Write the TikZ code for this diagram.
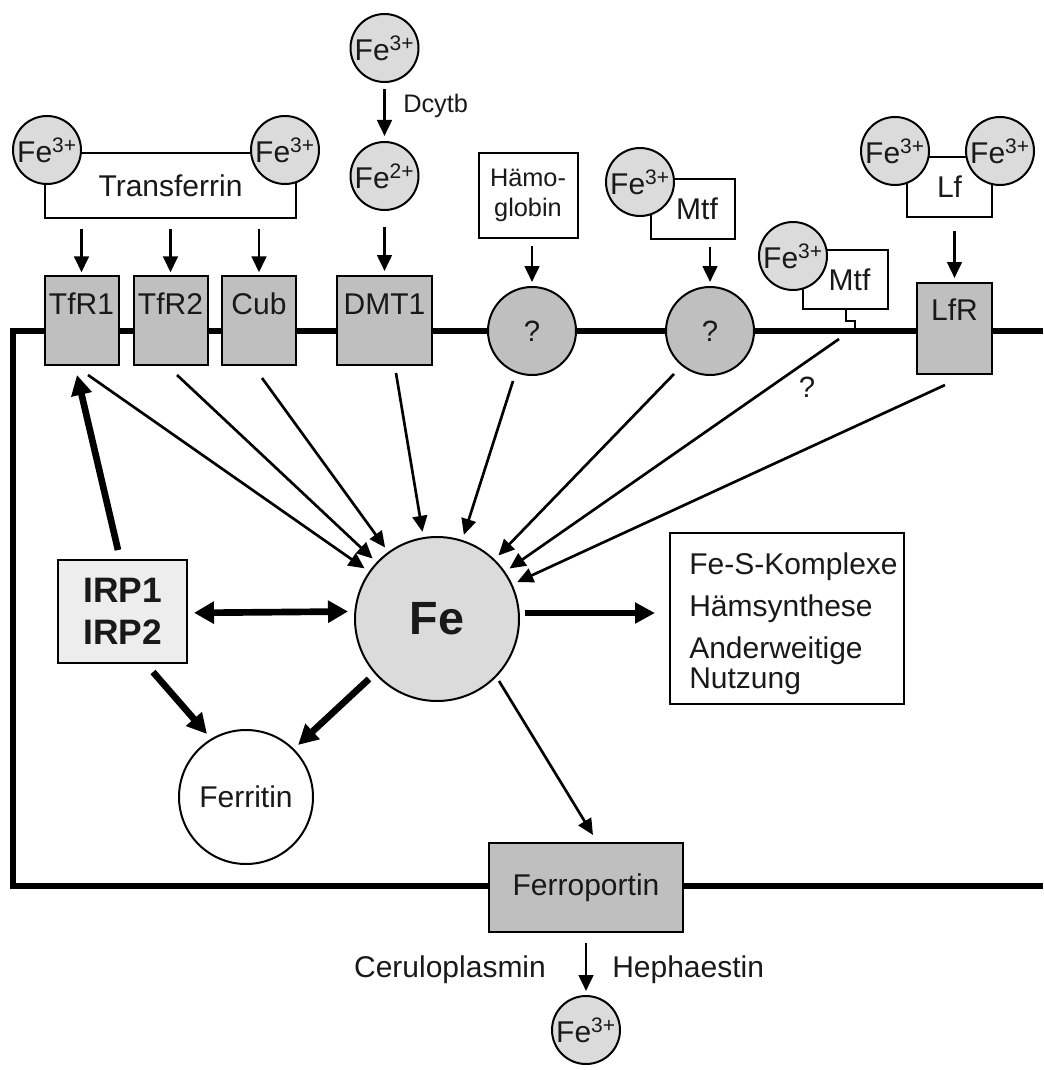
\documentclass[tikz,border=0pt]{standalone}
\usepackage{fontspec}
\setmainfont{Liberation Sans}
\usetikzlibrary{arrows.meta}
\definecolor{ionc}{gray}{0.86}
\definecolor{protc}{gray}{0.75}
\definecolor{irpc}{gray}{0.93}
\definecolor{txt}{gray}{0.1}
\newcommand\fmain{\fontsize{22.5pt}{22.5pt}\selectfont}
\newcommand\fsmall{\fontsize{19pt}{23pt}\selectfont}
\newcommand\fq{\fontsize{22pt}{24pt}\selectfont}
\newcommand\firp{\fontsize{26.5pt}{32pt}\selectfont\bfseries}
\newcommand\fbig{\fontsize{35pt}{40pt}\selectfont\bfseries}
\begin{document}
\begin{tikzpicture}[x=0.75pt,y=-0.75pt,
  every node/.style={text=txt},
  ion/.style={circle,draw,line width=1.5pt,fill=ionc,minimum size=51pt,inner sep=0pt,font=\fmain},
  prot/.style={rectangle,draw,line width=1.5pt,fill=protc,inner sep=0pt,font=\fmain},
  raised/.style={text height=16.5pt,text depth=26pt},
  qcirc/.style={circle,draw,line width=1.5pt,fill=protc,minimum size=66pt,inner sep=0pt,font=\fq},
  wbox/.style={rectangle,draw,line width=1.5pt,fill=white,inner sep=0pt},
  memb/.style={line width=4.5pt,line join=miter},
  tarr/.style={line width=2pt,-{Triangle[length=12pt,width=11pt]}},
  karr/.style={line width=5pt,-{Triangle[length=15pt,width=15pt]}},
  darr/.style={line width=5pt,{Triangle[length=15pt,width=16pt]}-{Triangle[length=15pt,width=16pt]}}
]
\useasboundingbox (0,0) rectangle (1043,1070);

% membrane
\draw[memb] (1043,331) -- (13,331) -- (13,886) -- (1043,886);

% transferrin
\node[wbox,minimum width=188.25pt,minimum height=48.75pt,font=\fmain] (tf) at (170.5,185.5) {Transferrin};
\node[ion] (tfa) at (47,150) {Fe\textsuperscript{3+}};
\node[ion] (tfb) at (285,150) {Fe\textsuperscript{3+}};

% receptors
\node[prot,raised,minimum width=55.5pt,minimum height=66.75pt] (tfr1) at (81.5,320.5) {TfR1};
\node[prot,raised,minimum width=55.5pt,minimum height=66.75pt] (tfr2) at (170.5,320.5) {TfR2};
\node[prot,raised,minimum width=55.5pt,minimum height=66.75pt] (cub) at (259,320.5) {Cub};
\node[prot,raised,minimum width=71.25pt,minimum height=66.75pt] (dmt) at (384.5,320.5) {DMT1};

\foreach \r in {tfr1,tfr2,cub}
  \draw[tarr,shorten <=7.5pt,shorten >=2pt] (\r |- tf.south) -- (\r.north);

% DMT1 column
\node[ion] (fe3a) at (384.5,48) {Fe\textsuperscript{3+}};
\node[ion] (fe2a) at (384.5,176) {Fe\textsuperscript{2+}};
\draw[tarr,shorten <=4.5pt,shorten >=3.75pt] (fe3a) -- (fe2a);
\node[anchor=west,font=\fsmall,inner sep=0pt] (dcytb) at (403,106) {Dcytb};
\draw[tarr,shorten <=12pt,shorten >=3pt] (fe2a) -- (dmt.north);

% haemoglobin
\node[wbox,minimum width=74.25pt,minimum height=63.75pt,align=center,font=\fsmall] (hb) at (528,195.5) {Hämo-\\globin};
\node[qcirc] (q1) at (532,331) {?};
\draw[tarr,shorten <=5pt,shorten >=3pt] (q1 |- hb.south) -- (q1.north);

% Mtf 1
\node[wbox,minimum width=63pt,minimum height=45pt,font=\fmain] (mtfb1) at (693,209) {\hspace{6pt}Mtf};
\node[ion] (mtfa) at (640,182) {Fe\textsuperscript{3+}};
\node[qcirc] (q2) at (710,331) {?};
\draw[tarr,shorten <=5pt,shorten >=3pt] (q2 |- mtfb1.south) -- (q2.north);

% Mtf 2 (anchored)
\node[wbox,minimum width=63.75pt,minimum height=44.25pt,font=\fmain] (mtfb2) at (845.5,279.5) {\hspace{6pt}Mtf};
\node[ion] (mtfc) at (793,256) {Fe\textsuperscript{3+}};
\draw[line width=1.5pt] (mtfb2.south) -- ++(0,11) -- ++(9,0) -- ++(0,11);
\node[font=\fq,inner sep=0pt] (qlab) at (807,387) {?};

% Lactoferrin
\node[wbox,minimum width=63.75pt,minimum height=45pt,font=\fmain] (lfb) at (949.5,187) {Lf};
\node[ion] (lfa) at (895,151) {Fe\textsuperscript{3+}};
\node[ion] (lfc) at (1000,151) {Fe\textsuperscript{3+}};
\node[prot,text height=16.5pt,text depth=28pt,minimum width=56.25pt,minimum height=68.25pt] (lfr) at (954.5,328.5) {LfR};
\draw[tarr,shorten <=10pt,shorten >=3pt] (lfr |- lfb.south) -- (lfr.north);

% central Fe
\node[circle,draw,line width=1.5pt,fill=ionc,minimum size=123pt,inner sep=0pt,font=\fbig] (fe) at (437,619) {Fe};

% influx arrows
\coordinate (s1) at (88,375);
\coordinate (s2) at (177,375);
\coordinate (s3) at (262,378);
\coordinate (s4) at (396,373);
\coordinate (s5) at (513,381);
\coordinate (s6) at (674,374);
\coordinate (s7) at (839,339);
\coordinate (s8) at (945,385);
\foreach \s in {s1,s2,s3,s4,s5,s6,s7,s8}
  \draw[tarr,shorten >=4pt] (\s) -- (fe);

% IRP
\node[rectangle,draw,line width=1.5pt,fill=irpc,minimum width=96.75pt,minimum height=77.25pt,align=center,font=\firp,inner sep=0pt] (irp) at (122.5,611.5) {IRP1\\IRP2};
\coordinate (irpup) at (118,550);
\coordinate (tfr1dn) at (77,375);
\draw[karr] (irpup) -- (tfr1dn);
\draw[darr] ([xshift=4.5pt,yshift=-1pt]irp.east) -- ([xshift=-4.5pt]irp.east -| fe.west);

% Fe-S box
\node[wbox,minimum width=175.5pt,minimum height=128.25pt] (fes) at (787,618.5) {};
\node[anchor=west,align=left,font=\fmain,inner sep=0pt] (fest) at (689,624) {Fe-S-Komplexe\\[9pt]Hämsynthese\\[9pt]Anderweitige\\Nutzung};
\coordinate (feout) at (525,613);
\coordinate (fesin) at (655,613);
\draw[karr] (feout) -- (fesin);

% Ferritin
\node[circle,draw,line width=1.5pt,fill=white,minimum size=100.5pt,inner sep=0pt,font=\fmain] (ferr) at (246,797) {Ferritin};
\coordinate (irpdn) at (153,672);
\coordinate (ferra) at (207,734);
\draw[karr] (irpdn) -- (ferra);
\coordinate (fedl) at (369,679);
\coordinate (ferrb) at (298,745);
\draw[karr] (fedl) -- (ferrb);

% Ferroportin
\node[prot,minimum width=145.5pt,minimum height=66.75pt] (fp) at (586,887.5) {Ferroportin};
\coordinate (fedr) at (499,681);
\coordinate (fpin) at (593,835);
\draw[tarr] (fedr) -- (fpin);

\node[ion] (fe3b) at (586,1030) {Fe\textsuperscript{3+}};
\draw[tarr,shorten <=7.5pt,shorten >=3pt] (fp.south) -- (fe3b.north);
\node[font=\fmain,inner sep=0pt] (cer) at (450,970) {Ceruloplasmin};
\node[anchor=west,font=\fmain,inner sep=0pt] (heph) at (612,970) {Hephaestin};
\end{tikzpicture}
\end{document}
